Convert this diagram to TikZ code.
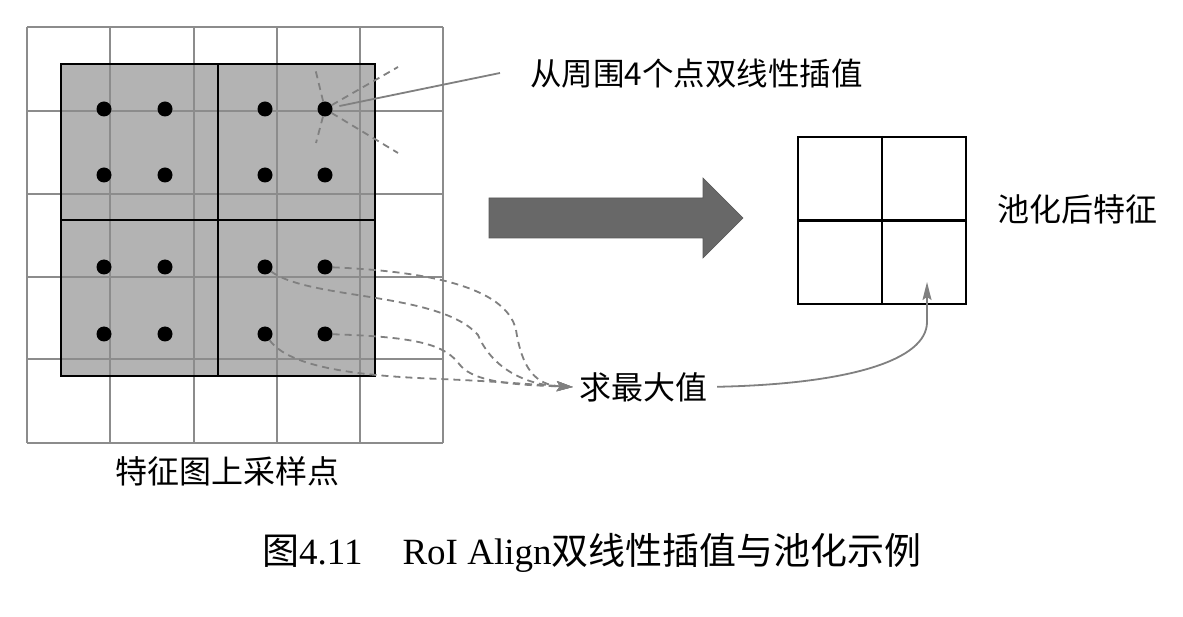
\documentclass[tikz,border=0pt]{standalone}
\usepackage{fontspec}
\newfontfamily\cjk{Noto Sans CJK SC}
\newfontfamily\capserif{Liberation Serif}
\usetikzlibrary{arrows.meta}
\definecolor{gridgray}{RGB}{140,140,140}
\definecolor{roigray}{RGB}{179,179,179}
\definecolor{linegray}{RGB}{128,128,128}
\definecolor{arrowgray}{RGB}{104,104,104}
\begin{document}
\begin{tikzpicture}[x=1pt,y=-1pt,
  gridline/.style={draw=gridgray,line width=2pt},
  roiline/.style={draw=black,line width=2.2pt},
  dot/.style={circle,fill=black,inner sep=0pt,minimum size=15pt},
  dashline/.style={draw=linegray,line width=1.8pt,dash pattern=on 7pt off 5pt},
  pointer/.style={draw=linegray,line width=1.8pt},
  gtip/.style={-{Stealth[length=16pt,width=10pt,inset=3pt,fill=linegray]}},
  lbl/.style={font=\cjk\fontsize{32pt}{36pt}\selectfont,inner sep=0pt},
  toplbl/.style={font=\cjk\fontsize{31.5pt}{36pt}\selectfont,inner sep=0pt},
  caption/.style={inner sep=0pt}
]
\useasboundingbox[fill=white] (0,0) rectangle (1183,617);
% RoI fill
\fill[roigray] (61,64) rectangle (375,376);
% feature map grid
\foreach \x in {27,110,194,277,360,443} \draw[gridline] (\x,27) -- (\x,443);
\foreach \y in {27,111,194,277,359,443} \draw[gridline] (27,\y) -- (443,\y);
% RoI outline and bins
\draw[roiline] (61,64) rectangle (375,376);
\draw[roiline] (218,64) -- (218,376);
\draw[roiline] (61,220) -- (375,220);
% sampling points
\foreach \r/\yy in {1/109,2/175,3/267,4/334}{
  \foreach \c/\xx in {1/104,2/165,3/265,4/325}{
    \node[dot] (d\r\c) at (\xx,\yy) {};
  }
}
% bilinear neighbours
\coordinate (nur) at (398,67);
\coordinate (ndr) at (398,153);
\coordinate (nu) at (315,68);
\coordinate (nd) at (316,143);
\draw[dashline] (d14) -- (nur);
\draw[dashline] (d14) -- (ndr);
\draw[dashline] (d14) -- (nu);
\draw[dashline] (d14) -- (nd);
% labels
\node[toplbl,anchor=west] (interp) at (530,74) {从周围4个点双线性插值};
\draw[pointer,shorten <=7pt] (d14) -- ([xshift=-30pt,yshift=1pt]interp.west);
\node[lbl] (fmap) at (227,471) {特征图上采样点};
\node[lbl] (pooled) at (1077,209) {池化后特征};
\node[lbl] (max) at (643,387) {求最大值};
% big arrow
\fill[arrowgray,draw=arrowgray!85!black,line width=0.6pt]
  (489,198) -- (703,198) -- (703,178) -- (743,218) -- (703,258) -- (703,238) -- (489,238) -- cycle;
% pooled feature
\node[draw=black,line width=2.2pt,minimum width=168pt,minimum height=167pt,inner sep=0pt] (pool) at (882,220.5) {};
\draw[roiline] (pool.north) -- (pool.south);
\draw[roiline] (pool.west) -- (pool.east);
% max-pool dashed curves
\coordinate (mtip) at ([xshift=-6pt]max.west);
\draw[dashline,gtip] (d34) .. controls (420,271) and (506,285) .. (516,330)
  .. controls (522,368) and (535,385) .. (mtip);
\draw[dashline,gtip] (d33) .. controls (310,300) and (440,292) .. (478,335)
  .. controls (492,368) and (525,385) .. (mtip);
\draw[dashline,gtip] (d44) .. controls (420,337) and (445,345) .. (460,365)
  .. controls (475,384) and (525,385) .. (mtip);
\draw[dashline,gtip] (d43) .. controls (290,368) and (360,376) .. (440,379)
  .. controls (490,381) and (540,385) .. (mtip);
% max to pooled cell
\coordinate (ptip) at (927,282);
\draw[pointer,-{Stealth[length=18pt,width=9pt,inset=3pt,fill=linegray]},shorten <=10pt] (max.east) .. controls (850,384) and (927,360) .. (927,322) -- (ptip);
% caption
\node[caption,anchor=west] (cap) at (262,553)
  {\cjk\fontsize{37pt}{40pt}\selectfont 图\capserif 4.11\hspace{40pt}RoI Align\cjk 双线性插值与池化示例};
\end{tikzpicture}
\end{document}
